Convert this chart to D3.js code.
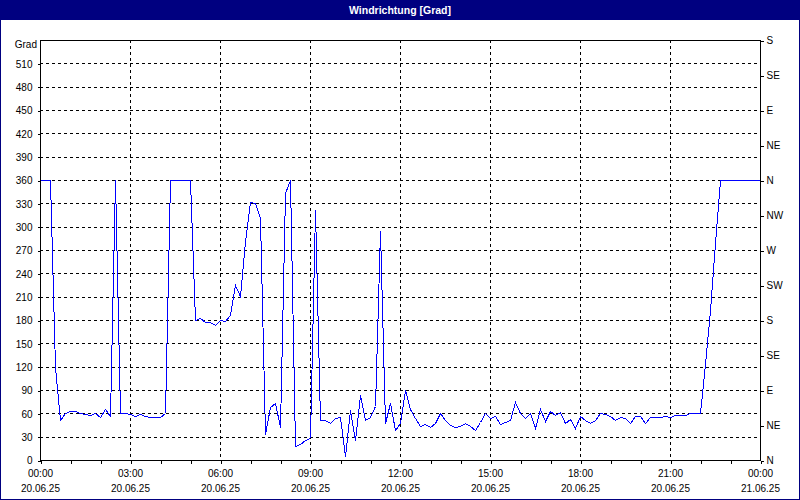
<!DOCTYPE html>
<html><head><meta charset="utf-8">
<script src="https://cdn.jsdelivr.net/npm/d3@7"></script>
<style>
html,body{margin:0;padding:0;background:#fff;}
svg{display:block;}
text{font-family:"Liberation Sans",Arial,sans-serif;}
</style></head>
<body>
<svg id="chart" width="800" height="500"></svg>
<script>
// ---- data ----
const title = "Windrichtung [Grad]";
const yAxisTitle = "Grad";
const startTime = "2025-06-20T00:00:00";
const endTime = "2025-06-21T00:00:00";
const stepMinutes = 10; // one reading every 10 minutes
const windDir = [
 360,360,360,120,52,61,63,63,61,59,58,60,55,65,57,360,60,60,59,57,
 59,57,55,55,55,60,360,360,360,360,360,180,182,177,177,173,180,179,186,225,
 211,281,332,330,311,34,68,73,43,343,360,18,21,26,28,321,51,51,47,54,
 55,5,64,26,84,51,55,70,294,47,73,39,47,90,66,54,44,46,43,47,
 60,51,45,42,44,47,44,39,49,61,54,57,46,49,51,74,61,54,61,41,
 65,50,63,58,62,47,53,41,57,52,48,51,60,59,57,52,55,54,48,57,
 56,48,55,55,55,56,55,58,58,58,61,61,61,124,193,279,360,360,360,360,
 360,360,360,360,360
];
const yTicks = [0,30,60,90,120,150,180,210,240,270,300,330,360,390,420,450,480,510];
const dirTicks = [0,45,90,135,180,225,270,315,360,405,450,495,540];
const dirLabels = ["N","NE","E","SE","S","SW","W","NW","N","NE","E","SE","S"];
const yMax = 540;

// ---- layout ----
const W = 800, H = 500;
const L = 40, R = 760, T = 40, B = 460;
const navy = "#000080";

const svg = d3.select("#chart");
svg.append("rect").attr("x",0).attr("y",0).attr("width",W).attr("height",H).attr("fill","#fff");

const t0 = new Date(startTime), t1 = new Date(endTime);
const data = windDir.map((v,i)=>({t:new Date(t0.getTime()+i*stepMinutes*60000), v}));

const x = d3.scaleTime().domain([t0,t1]).range([L,R]);
const y = d3.scaleLinear().domain([0,yMax]).range([B,T]);
const yr = d3.scaleLinear().domain([0,yMax]).range([B,T]);

// grid
const grid = svg.append("g").attr("shape-rendering","crispEdges")
  .attr("stroke","#000").attr("stroke-width",1).attr("stroke-dasharray","3,3");
grid.selectAll("line.h").data(yTicks.filter(d=>d>0)).join("line")
  .attr("x1",L).attr("x2",R).attr("y1",d=>Math.round(y(d))+0.5).attr("y2",d=>Math.round(y(d))+0.5);
const majorTimes = d3.timeHour.every(3).range(t0, t1).filter(d=>+d>+t0);
grid.selectAll("line.v").data(majorTimes).join("line")
  .attr("x1",d=>Math.round(x(d))+0.5).attr("x2",d=>Math.round(x(d))+0.5).attr("y1",T).attr("y2",B);

// data line
svg.append("path").datum(data)
  .attr("fill","none").attr("stroke","#0000ff").attr("stroke-width",1)
  .attr("shape-rendering","crispEdges")
  .attr("d", d3.line().x(d=>Math.round(x(d.t))+0.5).y(d=>Math.round(y(d.v))+0.5));

// frame
svg.append("rect").attr("x",L+0.5).attr("y",T+0.5).attr("width",R-L).attr("height",B-T)
  .attr("fill","none").attr("stroke","#000").attr("shape-rendering","crispEdges");

// left axis
const axL = svg.append("g").attr("transform",`translate(${L+0.5},0.5)`)
  .call(d3.axisLeft(y).tickValues(yTicks).tickSize(3).tickPadding(5).tickFormat(d3.format("d")));
axL.select(".domain").remove();
axL.selectAll("line").attr("shape-rendering","crispEdges");
axL.selectAll("text").attr("font-size","10px").attr("font-family","Liberation Sans, Arial, sans-serif").attr("fill","#000");
svg.append("text").attr("x",L-3).attr("y",T+8).attr("text-anchor","end")
  .attr("font-size","10px").attr("fill","#000").text(yAxisTitle);

// right axis
const axR = svg.append("g").attr("transform",`translate(${R+0.5},0.5)`)
  .call(d3.axisRight(yr).tickValues(dirTicks).tickSize(3).tickPadding(3).tickFormat((d,i)=>dirLabels[i]));
axR.select(".domain").remove();
axR.selectAll("line").attr("shape-rendering","crispEdges");
axR.selectAll("text").attr("font-size","10px").attr("font-family","Liberation Sans, Arial, sans-serif").attr("fill","#000");

// bottom axis: minor hourly ticks
const axB = svg.append("g").attr("transform",`translate(0.5,${B+0.5})`)
  .call(d3.axisBottom(x).ticks(d3.timeHour.every(1)).tickSize(3).tickFormat(""));
axB.select(".domain").remove();
axB.selectAll("line").attr("shape-rendering","crispEdges");
// labels every 3 hours
const labTimes = d3.timeHour.every(3).range(t0, new Date(t1.getTime()+1));
const fTime = d3.timeFormat("%H:%M"), fDate = d3.timeFormat("%d.%m.%y");
const lab = svg.append("g").attr("font-size","10px").attr("fill","#000").attr("text-anchor","middle");
lab.selectAll("text.t").data(labTimes).join("text").attr("x",d=>x(d)+0.5).attr("y",477).text(fTime);
lab.selectAll("text.d").data(labTimes).join("text").attr("x",d=>x(d)+0.5).attr("y",492).text(fDate);

// title bar
svg.append("rect").attr("x",0).attr("y",0).attr("width",W).attr("height",20).attr("fill",navy);
svg.append("text").attr("x",W/2).attr("y",14).attr("text-anchor","middle")
  .attr("fill","#fff").attr("font-weight","bold").attr("font-size","10.5px").text(title);

// window border (1px)
svg.append("rect").attr("x",0.5).attr("y",0.5).attr("width",W-1).attr("height",H-1)
  .attr("fill","none").attr("stroke",navy).attr("stroke-width",1).attr("shape-rendering","crispEdges");
</script>
</body></html>
